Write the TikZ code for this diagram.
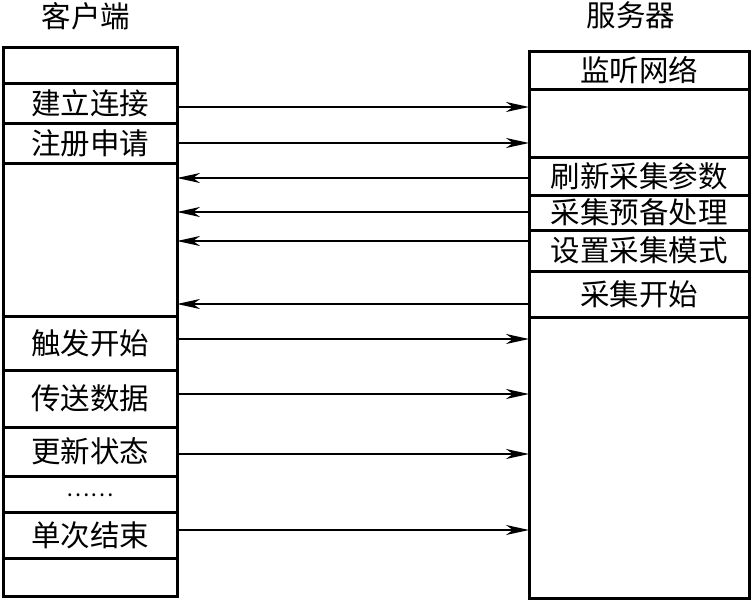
\documentclass[tikz,border=0pt]{standalone}
\usepackage{fontspec}
\newfontfamily\cjk{Noto Sans CJK SC}
\usetikzlibrary{arrows.meta}
\begin{document}
\begin{tikzpicture}[x=1pt,y=-1pt,
  cell/.style={draw,line width=3pt,anchor=north west,inner sep=0pt,outer sep=0pt,
    font=\cjk\fontsize{29.5}{30}\selectfont},
  lcell/.style={cell,minimum width=174pt},
  rcell/.style={cell,minimum width=220pt},
  head/.style={font=\cjk\fontsize{29.5}{30}\selectfont,inner sep=0pt},
  msg/.style={line width=2pt,-{Stealth[length=23pt,width=10pt,inset=7pt]}}]
\useasboundingbox (0,0) rectangle (752,602);
\node[head] (hc) at (86,16) {客户端};
\node[head] (hs) at (631,15) {服务器};
% client column
\node[lcell,minimum height=35pt] (l1) at (3,48) {};
\node[lcell,minimum height=40pt] (l2) at (3,83) {建立连接};
\node[lcell,minimum height=40pt] (l3) at (3,123) {注册申请};
\node[lcell,minimum height=153pt] (l4) at (3,163) {};
\node[lcell,minimum height=54pt] (l5) at (3,316) {触发开始};
\node[lcell,minimum height=57pt] (l6) at (3,370) {传送数据};
\node[lcell,minimum height=49pt] (l7) at (3,427) {更新状态};
\node[lcell,minimum height=36pt] (l8) at (3,476) {};
\node[font=\cjk\fontsize{22}{24}\selectfont,inner sep=0pt] (dots) at ([yshift=-1pt]l8.center) {……};
\node[lcell,minimum height=46pt] (l9) at (3,512) {单次结束};
\node[lcell,minimum height=38pt] (l10) at (3,558) {};
% server column
\node[rcell,minimum height=37pt] (r1) at (529,52) {监听网络};
\node[rcell,minimum height=68pt] (r2) at (529,89) {};
\node[rcell,minimum height=38pt] (r3) at (529,157) {刷新采集参数};
\node[rcell,minimum height=35pt] (r4) at (529,195) {采集预备处理};
\node[rcell,minimum height=41pt] (r5) at (529,230) {设置采集模式};
\node[rcell,minimum height=46pt] (r6) at (529,271) {采集开始};
\node[rcell,minimum height=281pt] (r7) at (529,317) {};
% message levels
\coordinate (m1) at (0,107);
\coordinate (m2) at (0,143);
\coordinate (m3) at (0,178);
\coordinate (m4) at (0,212);
\coordinate (m5) at (0,241);
\coordinate (m6) at (0,304);
\coordinate (m7) at (0,339);
\coordinate (m8) at (0,394);
\coordinate (m9) at (0,454);
\coordinate (m10) at (0,530);
\draw[msg] (l2.east |- m1) -- (r2.west |- m1);
\draw[msg] (l3.east |- m2) -- (r2.west |- m2);
\draw[msg] (r3.west |- m3) -- (l4.east |- m3);
\draw[msg] (r4.west |- m4) -- (l4.east |- m4);
\draw[msg] (r5.west |- m5) -- (l4.east |- m5);
\draw[msg] (r6.west |- m6) -- (l4.east |- m6);
\draw[msg] (l5.east |- m7) -- (r7.west |- m7);
\draw[msg] (l6.east |- m8) -- (r7.west |- m8);
\draw[msg] (l7.east |- m9) -- (r7.west |- m9);
\draw[msg] (l9.east |- m10) -- (r7.west |- m10);
\end{tikzpicture}
\end{document}
